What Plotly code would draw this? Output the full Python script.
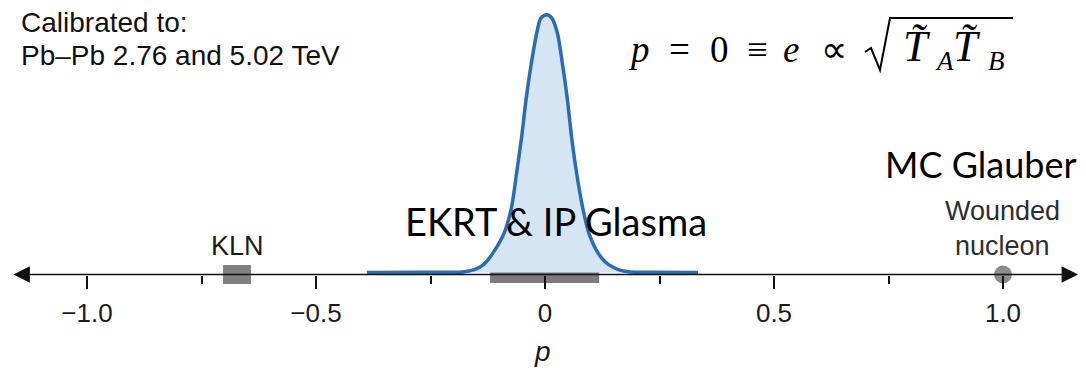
import plotly.graph_objects as go

W, H = 1086, 368

# Posterior of the reduced-thickness parameter p (relative density)
p_grid = [-0.389, -0.273, -0.207, -0.179, -0.160, -0.142, -0.128, -0.1135, -0.0895,
          -0.073, -0.062, -0.051, -0.0415, -0.031, -0.018, -0.009, 0.004, 0.015,
          0.027, 0.039, 0.049, 0.058, 0.069, 0.082, 0.096, 0.1157, 0.131, 0.148,
          0.165, 0.186, 0.229, 0.334]
density = [0.0, 0.0005, 0.001, 0.002, 0.008, 0.021, 0.042, 0.076, 0.152,
           0.254, 0.386, 0.526, 0.669, 0.798, 0.929, 0.987, 1.0, 0.987,
           0.929, 0.798, 0.669, 0.526, 0.386, 0.254, 0.152, 0.076, 0.042, 0.021,
           0.008, 0.002, 0.001, 0.0]

# Model ranges / points on the p axis
kln_range = [-0.703, -0.642]
ekrt_range = [-0.120, 0.118]
wounded_p = 1.0

major_ticks = [-1.0, -0.5, 0.0, 0.5, 1.0]
major_labels = ["\u22121.0", "\u22120.5", "0", "0.5", "1.0"]
minor_ticks = [-0.75, -0.25, 0.25, 0.75]

# axis geometry (pixels)
X0_PX, PX_PER_UNIT = 545.0, 458.0
Y_ZERO_PX, PX_PER_DENS = 272.5, 257.8
AXIS_PX = 274.5

x_range = [-X0_PX / PX_PER_UNIT, (W - X0_PX) / PX_PER_UNIT]
y_range = [-(H - Y_ZERO_PX) / PX_PER_DENS, Y_ZERO_PX / PX_PER_DENS]
axis_y = -(AXIS_PX - Y_ZERO_PX) / PX_PER_DENS


def px(xp, yp):
    return xp / W, 1 - yp / H


fig = go.Figure()

fig.add_trace(go.Scatter(
    x=p_grid, y=density, mode="lines", fill="tozeroy",
    fillcolor="#d6e5f4", line=dict(color="#2b6cb4", width=3.5, shape="spline", smoothing=0.8),
    hoverinfo="skip", showlegend=False,
))

fig.add_trace(go.Bar(
    orientation="h", base=[kln_range[0]], x=[kln_range[1] - kln_range[0]], y=[axis_y],
    width=[19 / PX_PER_DENS], marker=dict(color="#808080", line=dict(width=0)),
    showlegend=False, hoverinfo="skip",
))
fig.add_trace(go.Bar(
    orientation="h", base=[ekrt_range[0]], x=[ekrt_range[1] - ekrt_range[0]], y=[axis_y],
    width=[17 / PX_PER_DENS], marker=dict(color="rgba(100,100,100,0.85)", line=dict(width=0)),
    showlegend=False, hoverinfo="skip",
))
fig.add_trace(go.Scatter(
    x=[wounded_p], y=[axis_y], mode="markers",
    marker=dict(size=18, color="rgba(120,120,120,0.85)", line=dict(width=0)),
    showlegend=False, hoverinfo="skip", cliponaxis=False,
))

annotations = []
# double-headed axis arrow
annotations.append(dict(
    x=1.164, y=axis_y, ax=-1.164, ay=axis_y, xref="x", yref="y", axref="x", ayref="y",
    text="", showarrow=True, arrowside="end+start", arrowhead=2, startarrowhead=2,
    arrowwidth=1.5, arrowsize=2.2, startarrowsize=2.2, arrowcolor="#111111",
))

sans = "Liberation Sans, Arial, sans-serif"
body = "Lato, sans-serif"
serif = "Liberation Serif, Times New Roman, serif"


def text_at(t, xp, yp, size, family, xanchor="center", color="#111111", yanchor="top"):
    x, y = px(xp, yp)
    annotations.append(dict(
        x=x, y=y, xref="paper", yref="paper", text=t, showarrow=False,
        xanchor=xanchor, yanchor=yanchor, font=dict(size=size, family=family, color=color),
    ))


text_at("Calibrated to:", 19, 5, 28, sans, xanchor="left")
text_at("Pb\u2013Pb 2.76 and 5.02 TeV", 19, 38, 28, sans, xanchor="left")
text_at("KLN", 237, 229, 27, sans, color="#1a1a1a")
text_at("Wounded", 1002, 194, 27, sans, color="#2e2e2e")
text_at("nucleon", 1002, 229, 27, sans, color="#2e2e2e")
text_at("MC Glauber", 981, 140, 36, body, color="#000000")
text_at("EKRT &amp; IP Glasma", 556, 196, 38, body, color="#000000")
text_at("<i>p</i>", 542, 334, 28, sans, color="#1a1a1a")

# formula p = 0 ≡ e ∝ sqrt(T_A T_B); each glyph group placed by centre x and baseline
formula_parts = [("<i>p</i>", 639, 63, 37), ("=", 679, 63, 37), ("0", 719, 63, 37),
                 ("\u2261", 757.5, 63, 37), ("<i>e</i>", 791, 63, 37), ("\u221d", 834, 63, 37),
                 ("<i>T\u0303</i>", 917, 63, 44), ("<i>A</i>", 944, 70, 27),
                 ("<i>T\u0303</i>", 967, 63, 44), ("<i>B</i>", 996, 70, 27)]
for t, xc, base, fs in formula_parts:
    text_at(t, xc, base - 0.98 * fs, fs, serif, color="#000000")

pts = [(865, 52), (871, 48), (880, 70), (890, 18), (1013, 18)]
path = ""
for i, (a, b) in enumerate(pts):
    xx, yy = px(a, b)
    path += ("M" if i == 0 else " L") + f" {xx:.5f},{yy:.5f}"

shapes = [dict(type="path", path=path, xref="paper", yref="paper",
               line=dict(color="#000000", width=2))]

fig.update_layout(
    width=W, height=H, margin=dict(l=0, r=0, t=0, b=0),
    paper_bgcolor="white", plot_bgcolor="white", barmode="overlay",
    showlegend=False, annotations=annotations, shapes=shapes,
    xaxis=dict(
        range=x_range, domain=[0, 1], anchor="free", position=(H - AXIS_PX) / H,
        showgrid=False, zeroline=False, showline=False,
        tickvals=major_ticks, ticktext=major_labels, ticks="outside",
        ticklen=13, tickwidth=1.5, tickcolor="#111111",
        tickfont=dict(size=26, family=sans, color="#1a1a1a"),
        ticklabelstandoff=2,
        minor=dict(tickvals=minor_ticks, ticks="outside", ticklen=8, tickwidth=1.5,
                   tickcolor="#111111", showgrid=False),
        fixedrange=True,
    ),
    yaxis=dict(range=y_range, domain=[0, 1], visible=False, fixedrange=True),
)

fig.write_html("out.html")
